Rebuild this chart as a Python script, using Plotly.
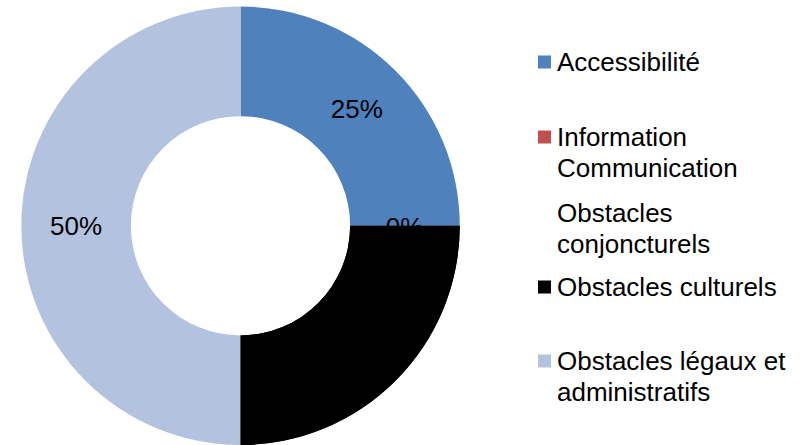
import plotly.graph_objects as go

W, H = 812, 445
FONT = "Arial, Liberation Sans, sans-serif"

categories = [
    "Accessibilité",
    "Information Communication",
    "Obstacles conjoncturels",
    "Obstacles culturels",
    "Obstacles légaux et administratifs",
]
legend_lines = [
    ["Accessibilité"],
    ["Information", "Communication"],
    ["Obstacles", "conjoncturels"],
    ["Obstacles culturels"],
    ["Obstacles légaux et", "administratifs"],
]
values = [25, 0, 0, 25, 50]
colors = ["#4F81BD", "#C0504D", "#FFFFFF", "#000000", "#B3C3DF"]

total = sum(values)
pct_text = [f"{v / total * 100:.0f}%" if v > 0 else "" for v in values]


def px(x):
    return x / W


def py(y):
    return 1 - y / H


ring_domain = dict(x=[px(21), px(460)], y=[0, py(6.5)])

fig = go.Figure()

# full ring with the non-zero percentage labels
fig.add_trace(go.Pie(
    labels=categories, values=values, hole=0.5, sort=False,
    direction="clockwise", rotation=0,
    marker=dict(colors=colors, line=dict(width=0)),
    text=pct_text, textinfo="text", textposition="inside",
    insidetextorientation="horizontal",
    textfont=dict(family=FONT, size=26, color="black"),
    domain=ring_domain, showlegend=False, hoverinfo="label+percent",
))

# label of the empty "Information Communication" slice, sitting on the 3 o'clock seam
zero_label = f"{values[1] / total * 100:.0f}%"
fig.add_trace(go.Pie(
    labels=[zero_label], values=[1], sort=False,
    marker=dict(colors=["rgba(0,0,0,0)"], line=dict(width=0)),
    text=[zero_label], textinfo="text", textposition="inside",
    insidetextorientation="horizontal",
    textfont=dict(family=FONT, size=26, color="black"),
    domain=dict(x=[px(364.5), px(444.5)], y=[py(267), py(187)]),
    showlegend=False, hoverinfo="skip",
))

# the culturels slice drawn again on top so it covers the seam label
overlay_colors = [c if cat == "Obstacles culturels" else "rgba(0,0,0,0)"
                  for c, cat in zip(colors, categories)]
fig.add_trace(go.Pie(
    labels=categories, values=values, hole=0.5, sort=False,
    direction="clockwise", rotation=0,
    marker=dict(colors=overlay_colors, line=dict(width=0)),
    textinfo="none", domain=ring_domain, showlegend=False, hoverinfo="skip",
))

# legend on the right
legend_y = [62, 137, 213, 287, 361]
line_gap = 31
shapes = []
annotations = []
for lines, color, y0 in zip(legend_lines, colors, legend_y):
    shapes.append(dict(
        type="rect", xref="paper", yref="paper",
        x0=px(538), x1=px(551), y0=py(y0 - 6.5), y1=py(y0 + 6.5),
        fillcolor=color, line=dict(width=0),
    ))
    for k, line in enumerate(lines):
        annotations.append(dict(
            text=line, xref="paper", yref="paper",
            x=px(555), y=py(y0 + k * line_gap),
            xanchor="left", yanchor="middle", showarrow=False,
            font=dict(family=FONT, size=26, color="black"),
        ))

fig.update_layout(
    width=W, height=H,
    margin=dict(l=0, r=0, t=0, b=0),
    paper_bgcolor="white", plot_bgcolor="white",
    shapes=shapes, annotations=annotations,
)

fig.write_html("out.html")
